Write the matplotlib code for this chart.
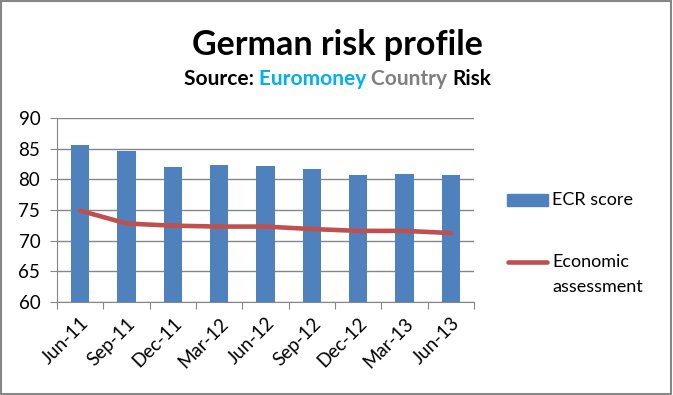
import matplotlib
matplotlib.use("Agg")
import matplotlib.pyplot as plt
import numpy as np
from matplotlib.patches import Rectangle
from matplotlib.lines import Line2D

plt.rcParams['font.family'] = ['Lato', 'DejaVu Sans']

# data
dates = ['Jun-11', 'Sep-11', 'Dec-11', 'Mar-12', 'Jun-12',
         'Sep-12', 'Dec-12', 'Mar-13', 'Jun-13']
ecr_score = [85.6, 84.6, 82.0, 82.3, 82.2, 81.7, 80.7, 80.9, 80.7]
economic = [74.9, 72.8, 72.45, 72.3, 72.3, 71.9, 71.6, 71.6, 71.25]
yticks = [60, 65, 70, 75, 80, 85, 90]

bar_col = '#4F81BD'
line_col = '#C0504D'
W, H = 673.0, 395.0

fig = plt.figure(figsize=(6.73, 3.95), dpi=100)
ax = fig.add_axes([0.0847, 0.2354, 0.6196, 0.4658])

x = np.arange(len(dates))
ax.bar(x, ecr_score, width=0.39, color=bar_col, zorder=2)
ax.plot(x, economic, color=line_col, lw=3.3, zorder=3, solid_capstyle='round')

ax.set_ylim(60, 90)
ax.set_xlim(-0.5, len(dates) - 0.5)
ax.set_yticks(yticks)
ax.tick_params(axis='y', length=5, color='#868686', labelsize=13.5, pad=7)
ax.yaxis.grid(True, color='#868686', lw=1, zorder=0)

# category boundary ticks, labels centred on the bars
ax.set_xticks(np.arange(-0.5, len(dates), 1.0))
ax.set_xticklabels([])
ax.set_xticks(x, minor=True)
ax.set_xticklabels(dates, minor=True, rotation=45, ha='right',
                   rotation_mode='anchor', fontsize=13.5)
ax.tick_params(axis='x', which='major', length=5, color='#868686')
ax.tick_params(axis='x', which='minor', length=0, pad=9)

for s in ['top', 'right']:
    ax.spines[s].set_visible(False)
for s in ['left', 'bottom']:
    ax.spines[s].set_color('#868686')

# legend drawn by hand so the line sits beside the first text line
fig.patches.append(Rectangle((507 / W, 1 - 206 / H), 41 / W, 12 / H,
                             transform=fig.transFigure, color=bar_col))
fig.lines.append(Line2D([508 / W, 547 / W], [1 - 262 / H, 1 - 262 / H],
                        transform=fig.transFigure, color=line_col, lw=3.3,
                        solid_capstyle='round'))
fig.text(552 / W, 1 - 200 / H, 'ECR score', fontsize=13, va='center')
fig.text(552 / W, 1 - 262 / H, 'Economic', fontsize=13, va='center')
fig.text(552 / W, 1 - 287 / H, 'assessment', fontsize=13, va='center')

fig.text(0.502, 1 - 45 / H, 'German risk profile', ha='center', va='center',
         fontsize=24.5, fontweight='bold')

# multicoloured subtitle
parts = [('Source: ', 'black'), ('Euromoney ', '#00B0F0'),
         ('Country ', '#7F7F7F'), ('Risk', 'black')]
fig.canvas.draw()
r = fig.canvas.get_renderer()
texts = []
for s, c in parts:
    t = fig.text(0, 1 - 79 / H, s, fontsize=15, fontweight='bold', color=c,
                 va='center')
    texts.append(t)
widths = [t.get_window_extent(r).width for t in texts]
total = sum(widths)
xpix = 0.5 * fig.bbox.width - total / 2 + 1
for t, w in zip(texts, widths):
    t.set_x(xpix / fig.bbox.width)
    xpix += w

fig.patches.append(Rectangle((0.002, 0.003), 0.995, 0.994,
                             transform=fig.transFigure, fill=False,
                             edgecolor='#868686', lw=1.5))

fig.savefig('out.png', dpi=100)
